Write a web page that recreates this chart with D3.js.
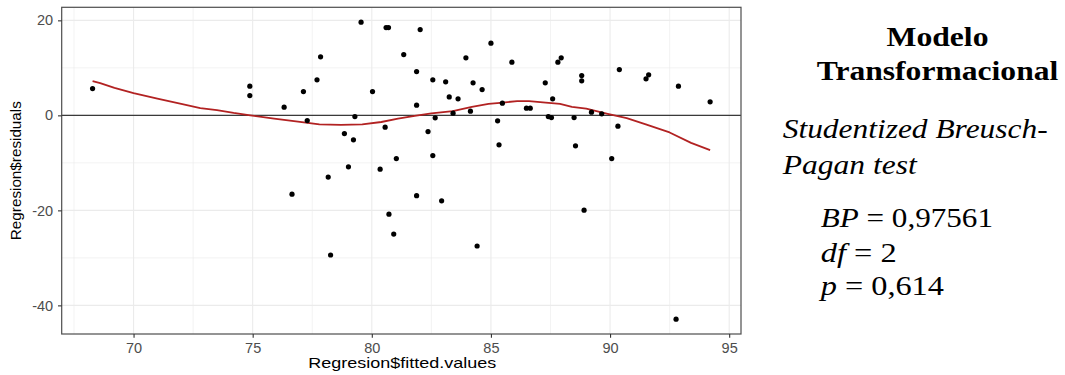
<!DOCTYPE html>
<html>
<head>
<meta charset="utf-8">
<script src="https://cdn.jsdelivr.net/npm/d3@7"></script>
<style>
  html, body { margin: 0; padding: 0; background: #ffffff; }
  svg { display: block; }
</style>
</head>
<body>
<svg id="chart" width="1065" height="375"></svg>
<script>
// Fitted values and residuals of the regression
const fitted = [
  68.28, 74.88, 74.88, 76.32, 76.65, 77.13, 77.29, 77.70, 77.85, 78.17,
  78.27, 78.85, 79.02, 79.23, 79.29, 79.55, 80.03, 80.35, 80.56, 80.60,
  80.70, 80.72, 80.92, 81.03, 81.34, 81.88, 81.88, 81.88, 82.03, 82.36,
  82.56, 82.56, 82.66, 82.93, 83.10, 83.25, 83.41, 83.62, 83.95, 84.14,
  84.25, 84.42, 84.63, 85.00, 85.28, 85.34, 85.48, 85.88, 86.49, 86.65,
  87.28, 87.41, 87.54, 87.59, 87.81, 87.95, 88.49, 88.55, 88.81, 88.81,
  88.91, 89.22, 89.65, 90.07, 90.33, 90.39, 91.51, 91.62, 92.77, 92.87,
  94.20
];
const residuals = [
   5.64,   6.15,   4.17,   1.73, -16.60,   5.01,  -1.09,   7.47,  12.32, -13.00,
 -29.40,  -3.83, -10.84,  -5.16,  -0.25,  19.62,   5.01, -11.33,  -2.49,  18.48,
  18.48, -20.80, -25.00,  -9.09,  12.80,   9.22,   2.15, -16.90,  18.06,  -3.41,
   7.47,  -8.46,  -0.53, -18.00,   7.05,   3.89,   0.46,   3.47,  12.10,   0.88,
   6.84, -27.50,   5.43,  15.20,  -1.16,  -6.21,   2.57,  11.20,   1.52,   1.52,
   6.84,  -0.25,  -0.46,   3.47,  11.20,  12.10,  -0.46,  -6.42,   8.38,   7.26,
 -19.97,   0.67,   0.32,  -9.09,  -2.27,   9.64,   7.68,   8.53, -42.90,   6.15,
   2.84
];

// Loess smoother through the residuals
const smoothX = [
  68.28, 68.6, 69.2, 70.0, 71.0, 72.0, 72.8, 73.5, 74.2, 74.9,
  75.9, 76.9, 77.8, 78.7, 79.6, 80.4, 81.1, 81.8, 82.5, 83.4,
  84.2, 84.9, 85.5, 86.1, 86.6, 87.3, 87.9, 88.4, 89.0, 89.9,
  90.7, 91.5, 92.5, 93.4, 94.2
];
const smoothY = [
  7.2, 6.8, 5.8, 4.7, 3.5, 2.4, 1.5, 1.1, 0.5, 0.0,
  -0.7, -1.3, -1.9, -2.0, -1.9, -1.4, -0.7, -0.1, 0.4, 0.9,
  1.8, 2.4, 2.7, 3.0, 3.0, 2.7, 2.4, 1.8, 1.4, 0.3,
  -0.6, -1.9, -3.6, -5.8, -7.3
];

const xTicks = [70, 75, 80, 85, 90, 95];
const xMinor = [67.5, 72.5, 77.5, 82.5, 87.5, 92.5];
const yTicks = [-40, -20, 0, 20];
const yMinor = [-30, -10, 10];

// Breusch-Pagan test summary
const titleLines = ["Modelo", "Transformacional"];
const testLines = ["Studentized Breusch-", "Pagan test"];
const bpStat = "0,97561";
const bpDf = "2";
const bpP = "0,614";

const svg = d3.select("#chart");

const panel = { left: 61.7, right: 741, top: 7.3, bottom: 334 };

// ggplot-style 5% expansion of the data range
function expand(ext) {
  const d = (ext[1] - ext[0]) * 0.05;
  return [ext[0] - d, ext[1] + d];
}
const x = d3.scaleLinear()
  .domain(expand(d3.extent(fitted)))
  .range([panel.left, panel.right]);
const y = d3.scaleLinear()
  .domain(expand(d3.extent(residuals)))
  .range([panel.bottom, panel.top]);

const grid = svg.append("g");
grid.selectAll("line.xminor").data(xMinor).join("line")
  .attr("x1", d => x(d)).attr("x2", d => x(d))
  .attr("y1", panel.top).attr("y2", panel.bottom)
  .attr("stroke", "#ebebeb").attr("stroke-width", 0.6);
grid.selectAll("line.yminor").data(yMinor).join("line")
  .attr("x1", panel.left).attr("x2", panel.right)
  .attr("y1", d => y(d)).attr("y2", d => y(d))
  .attr("stroke", "#ebebeb").attr("stroke-width", 0.6);
grid.selectAll("line.xmajor").data(xTicks).join("line")
  .attr("x1", d => x(d)).attr("x2", d => x(d))
  .attr("y1", panel.top).attr("y2", panel.bottom)
  .attr("stroke", "#ebebeb").attr("stroke-width", 1.1);
grid.selectAll("line.ymajor").data(yTicks).join("line")
  .attr("x1", panel.left).attr("x2", panel.right)
  .attr("y1", d => y(d)).attr("y2", d => y(d))
  .attr("stroke", "#ebebeb").attr("stroke-width", 1.1);

// Reference line at zero
svg.append("line")
  .attr("x1", panel.left).attr("x2", panel.right)
  .attr("y1", y(0)).attr("y2", y(0))
  .attr("stroke", "#3a3a3a").attr("stroke-width", 1.2);

// Smoother
const smooth = smoothX.map((v, i) => [v, smoothY[i]]);
svg.append("path")
  .datum(smooth)
  .attr("fill", "none")
  .attr("stroke", "#b22222")
  .attr("stroke-width", 1.8)
  .attr("stroke-linejoin", "round")
  .attr("d", d3.line().x(d => x(d[0])).y(d => y(d[1])));

// Residual points
const pts = fitted.map((v, i) => [v, residuals[i]]);
svg.append("g").selectAll("circle").data(pts).join("circle")
  .attr("cx", d => x(d[0]))
  .attr("cy", d => y(d[1]))
  .attr("r", 2.6)
  .attr("fill", "#000");

// Panel border
svg.append("rect")
  .attr("x", panel.left).attr("y", panel.top)
  .attr("width", panel.right - panel.left)
  .attr("height", panel.bottom - panel.top)
  .attr("fill", "none")
  .attr("stroke", "#4d4d4d").attr("stroke-width", 1.2);

// Axes (plain hyphen for negative labels)
const fmt = d => String(d);
const xAxis = svg.append("g")
  .attr("transform", `translate(0,${panel.bottom})`)
  .call(d3.axisBottom(x).tickValues(xTicks).tickFormat(fmt).tickSize(3.7).tickPadding(4));
const yAxis = svg.append("g")
  .attr("transform", `translate(${panel.left},0)`)
  .call(d3.axisLeft(y).tickValues(yTicks).tickFormat(fmt).tickSize(3.7).tickPadding(4));
[xAxis, yAxis].forEach(a => {
  a.select(".domain").remove();
  a.selectAll(".tick line").attr("stroke", "#333").attr("stroke-width", 1.1);
  a.selectAll(".tick text")
    .attr("fill", "#4d4d4d")
    .style("font-family", "'Liberation Sans', Arial, sans-serif")
    .style("font-size", "14.5px");
});
xAxis.selectAll(".tick text").attr("dy", "0.71em").attr("y", 8.5);
yAxis.selectAll(".tick text").attr("x", -8.5);

// Axis titles
svg.append("text")
  .attr("x", (panel.left + panel.right) / 2 + 1)
  .attr("y", 368.3)
  .attr("text-anchor", "middle")
  .attr("textLength", 188)
  .attr("lengthAdjust", "spacingAndGlyphs")
  .style("font-family", "'Liberation Sans', Arial, sans-serif")
  .style("font-size", "14.5px")
  .attr("fill", "#000")
  .text("Regresion$fitted.values");

svg.append("text")
  .attr("transform", `translate(21,${(panel.top + panel.bottom) / 2}) rotate(-90)`)
  .attr("text-anchor", "middle")
  .attr("textLength", 139)
  .attr("lengthAdjust", "spacingAndGlyphs")
  .style("font-family", "'Liberation Sans', Arial, sans-serif")
  .style("font-size", "15px")
  .attr("fill", "#000")
  .text("Regresion$residuals");

// Side annotation
const serif = "'Liberation Serif', 'Times New Roman', serif";
const titleY = [46, 80];
const titleW = [102, 241.6];
titleLines.forEach((t, i) => {
  svg.append("text")
    .attr("x", 937.5).attr("y", titleY[i])
    .attr("text-anchor", "middle")
    .attr("textLength", titleW[i])
    .attr("lengthAdjust", "spacingAndGlyphs")
    .style("font-family", serif)
    .style("font-size", "28px")
    .style("font-weight", "bold")
    .attr("fill", "#000")
    .text(t);
});

const testY = [138.3, 174];
const testW = [265, 134];
testLines.forEach((t, i) => {
  svg.append("text")
    .attr("x", 782.7).attr("y", testY[i])
    .attr("textLength", testW[i])
    .attr("lengthAdjust", "spacingAndGlyphs")
    .style("font-family", serif)
    .style("font-size", "26.5px")
    .style("font-style", "italic")
    .attr("fill", "#000")
    .text(t);
});

// Statistic lines: italic symbol, roman value, stretched to the measured width
const statLines = [
  { sym: "BP", val: bpStat, y: 226.7, w: 172.3 },
  { sym: "df", val: bpDf, y: 261.7, w: 76 },
  { sym: "p", val: bpP, y: 295, w: 123.3 }
];
statLines.forEach(s => {
  const g = svg.append("g");
  const t = g.append("text")
    .style("font-family", serif)
    .style("font-size", "27px")
    .attr("fill", "#000");
  t.append("tspan").style("font-style", "italic").text(s.sym);
  t.append("tspan").text(" = " + s.val);
  const natural = t.node().getComputedTextLength();
  g.attr("transform", `translate(820.7,${s.y}) scale(${s.w / natural},1)`);
});
</script>
</body>
</html>
